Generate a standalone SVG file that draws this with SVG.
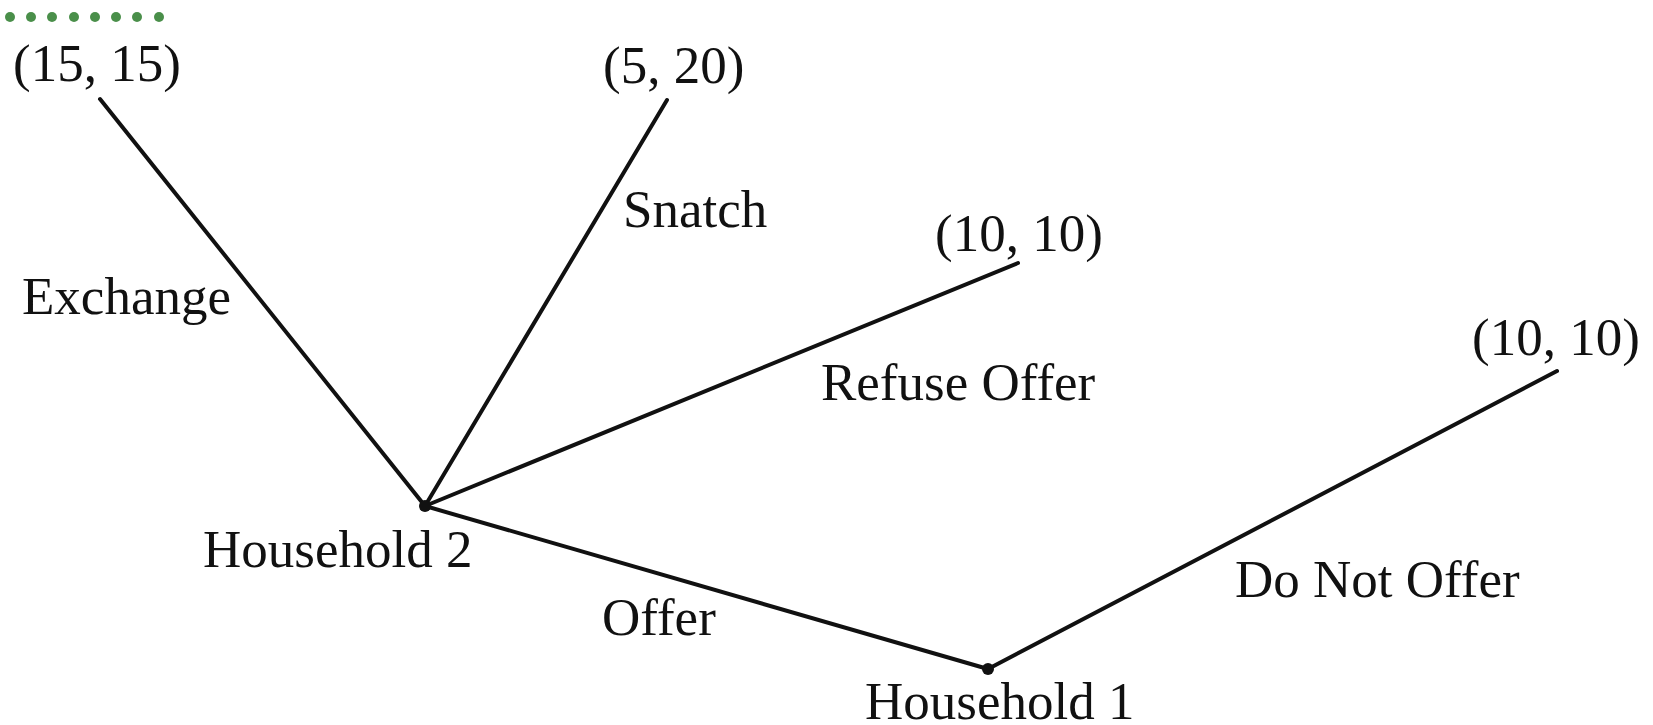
<svg xmlns="http://www.w3.org/2000/svg" width="1653" height="725" viewBox="0 0 1653 725">
<style>
.t{font-family:"Liberation Serif","Times New Roman",serif;font-size:53px;fill:#111}
.e{stroke:#111;stroke-width:4;stroke-linecap:round;fill:none}
.n{fill:#111}
.g{fill:#4a8f4a}
</style>
<rect width="1653" height="725" fill="#fff"/>
<g id="dots">
<circle class="g" cx="10" cy="17" r="5"/><circle class="g" cx="31" cy="17" r="5"/><circle class="g" cx="52" cy="17" r="5"/><circle class="g" cx="74" cy="17" r="5"/><circle class="g" cx="95" cy="17" r="5"/><circle class="g" cx="116" cy="17" r="5"/><circle class="g" cx="137" cy="17" r="5"/><circle class="g" cx="159" cy="17" r="5"/>
</g>
<g id="connectors">
<line class="e" x1="425" y1="506" x2="100" y2="99"/>
<line class="e" x1="425" y1="506" x2="667" y2="100"/>
<line class="e" x1="425" y1="506" x2="1018" y2="263"/>
<line class="e" x1="425" y1="506" x2="988" y2="669"/>
<line class="e" x1="988" y1="669" x2="1557" y2="371"/>
<text class="t" x="22" y="314">Exchange</text>
<text class="t" x="623" y="227">Snatch</text>
<text class="t" x="821" y="400">Refuse Offer</text>
<text class="t" x="602" y="635">Offer</text>
<text class="t" x="1235" y="597">Do Not Offer</text>
</g>
<g id="household2">
<circle class="n" cx="425" cy="506" r="6"/>
<text class="t" x="203" y="567">Household 2</text>
</g>
<g id="household1">
<circle class="n" cx="988" cy="669" r="6"/>
<text class="t" x="865" y="719">Household 1</text>
</g>
<g id="payoff-exchange"><text class="t" x="13" y="81">(15, 15)</text></g>
<g id="payoff-snatch"><text class="t" x="603" y="83">(5, 20)</text></g>
<g id="payoff-refuse"><text class="t" x="935" y="251">(10, 10)</text></g>
<g id="payoff-nooffer"><text class="t" x="1472" y="355">(10, 10)</text></g>
</svg>
